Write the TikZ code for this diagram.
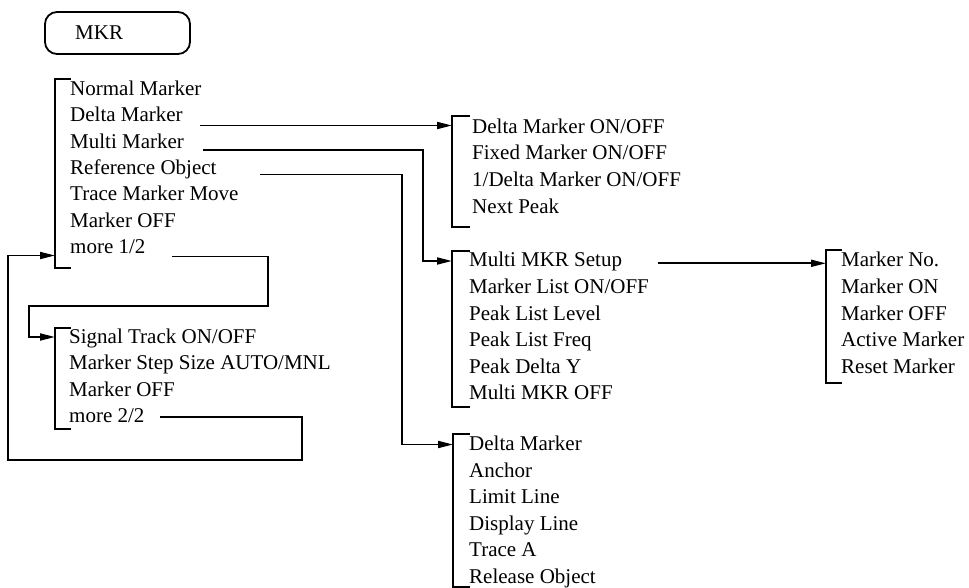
\documentclass[tikz,border=0pt]{standalone}
\usepackage{fontspec}
\setmainfont{Liberation Serif}
\usetikzlibrary{arrows.meta}
\begin{document}
\begin{tikzpicture}[x=1pt,y=-1pt,
  item/.style={anchor=base west,inner sep=0pt,font=\fontsize{21}{25}\selectfont},
  conn/.style={line width=1.8pt},
  arr/.style={conn,-{Triangle[length=15pt,width=7pt]}},
  brk/.style={line width=1.8pt}]
\useasboundingbox (0,0) rectangle (969,588);
% MKR key
\draw[line width=1.8pt,rounded corners=12pt] (45,12) rectangle (190,54);
\node[item] (mkr) at (75,40) {MKR};
% group 1
\draw[brk] (71,79) -- (55,79) -- (55,268) -- (71,268);
\node[item] (g1a) at (70,95.7) {Normal Marker};
\node[item] (g1b) at (70,122) {Delta Marker};
\node[item] (g1c) at (70,148.3) {Multi Marker};
\node[item] (g1d) at (70,174.7) {Reference Object};
\node[item] (g1e) at (70,201) {Trace Marker Move};
\node[item] (g1f) at (70,227.3) {Marker OFF};
\node[item] (g1g) at (70,253.7) {more 1/2};
% group 2
\draw[brk] (71,328) -- (55,328) -- (55,429) -- (71,429);
\node[item] (g2a) at (69,343.3) {Signal Track ON/OFF};
\node[item] (g2b) at (69,369.6) {Marker Step Size AUTO/MNL};
\node[item] (g2c) at (69,396) {Marker OFF};
\node[item] (g2d) at (69,422.2) {more 2/2};
% group 3
\draw[brk] (470,115.7) -- (452,115.7) -- (452,226.7) -- (470,226.7);
\node[item] (g3a) at (472,133.3) {Delta Marker ON/OFF};
\node[item] (g3b) at (472,160) {Fixed Marker ON/OFF};
\node[item] (g3c) at (472,186.7) {1/Delta Marker ON/OFF};
\node[item] (g3d) at (472,213.3) {Next Peak};
% group 4
\draw[brk] (470,250.7) -- (452,250.7) -- (452,407) -- (470,407);
\node[item] (g4a) at (469,266.7) {Multi MKR Setup};
\node[item] (g4b) at (469,293.3) {Marker List ON/OFF};
\node[item] (g4c) at (469,320) {Peak List Level};
\node[item] (g4d) at (469,346.7) {Peak List Freq};
\node[item] (g4e) at (469,373.3) {Peak Delta Y};
\node[item] (g4f) at (469,399.5) {Multi MKR OFF};
% group 5
\draw[brk] (470,434) -- (453,434) -- (453,586.7) -- (470,586.7);
\node[item] (g5a) at (469,450) {Delta Marker};
\node[item] (g5b) at (469,477.3) {Anchor};
\node[item] (g5c) at (469,503.3) {Limit Line};
\node[item] (g5d) at (469,530) {Display Line};
\node[item] (g5e) at (469,556.7) {Trace A};
\node[item] (g5f) at (469,583.3) {Release Object};
% group 6
\draw[brk] (842,250) -- (826,250) -- (826,383) -- (842,383);
\node[item] (g6a) at (841,266.7) {Marker No.};
\node[item] (g6b) at (841,293.3) {Marker ON};
\node[item] (g6c) at (841,320) {Marker OFF};
\node[item] (g6d) at (841,346.7) {Active Marker};
\node[item] (g6e) at (841,373.3) {Reset Marker};
% connector end points
\coordinate (s1) at (200,125.5);
\coordinate (t1) at (452,125.5);
\coordinate (s2) at (203,150);
\coordinate (t2) at (452,261);
\coordinate (s3) at (260,174.5);
\coordinate (t3) at (453,444.5);
\coordinate (s4) at (172,256.5);
\coordinate (t4) at (55,337);
\coordinate (s5) at (160,416.7);
\coordinate (t5) at (55,255.5);
\coordinate (s6) at (658,263.3);
\coordinate (t6) at (826,263.3);
% connectors
\draw[arr] (s1) -- (t1);
\draw[arr] (s2) -- (423,150) |- (t2);
\draw[arr] (s3) -- (402,174.5) |- (t3);
\draw[arr] (s4) -- (268,256.5) -- (268,306) -- (29,306) |- (t4);
\draw[arr] (s5) -- (301.7,416.7) -- (301.7,460) -- (8,460) |- (t5);
\draw[arr] (s6) -- (t6);
\end{tikzpicture}
\end{document}
